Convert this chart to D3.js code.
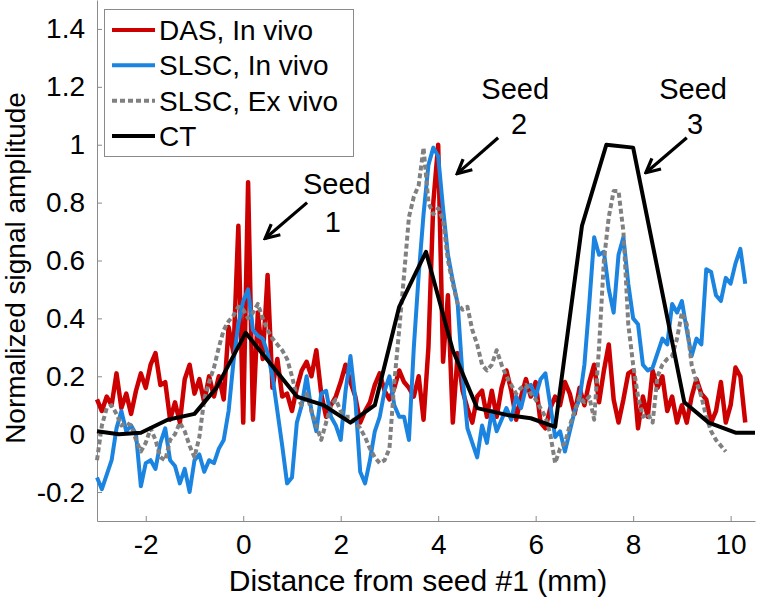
<!DOCTYPE html>
<html>
<head>
<meta charset="utf-8">
<script src="https://cdn.jsdelivr.net/npm/d3@7"></script>
<style>
body { margin: 0; background: #fff; }
svg text { font-family: "Liberation Sans", Arial, sans-serif; fill: #000; }
</style>
</head>
<body>
<script>
// profiles are sampled every 0.1 mm, starting at -3 mm
let xStart = -3
let xStep = 0.1

let dasVivo = [
  0.12, 0.08, 0.13, 0.10, 0.21, 0.09, 0.14, 0.07, 0.15, 0.21,
  0.16, 0.24, 0.28, 0.17, 0.18, 0.05, 0.11, 0.04, 0.19, 0.24,
  0.14, 0.19, 0.11, 0.20, 0.13, 0.20, 0.12, 0.37, 0.28, 0.72,
  0.04, 0.87, 0.05, 0.42, 0.26, 0.55, 0.16, 0.26, 0.13, 0.14,
  0.08, 0.16, 0.22, 0.25, 0.20, 0.29, 0.14, 0.06, 0.10, 0.13,
  0.18, 0.24, 0.18, 0.13, 0.04, 0.08, 0.11, 0.17, 0.21, 0.15,
  0.12, 0.16, 0.22, 0.18, 0.16, 0.13, 0.20, 0.05, 0.30, 0.80,
  1.00, 0.25, 0.48, 0.04, 0.28, 0.15, 0.09, 0.04, 0.13, 0.15,
  0.06, 0.15, 0.06, 0.16, 0.22, 0.15, 0.05, 0.13, 0.19, 0.13,
  0.18, 0.04, 0.02, 0.09, 0.13, 0.10, 0.18, 0.14, 0.07, 0.16,
  0.10, 0.18, 0.24, 0.11, 0.22, 0.31, 0.12, 0.04, 0.12, 0.21,
  0.22, 0.02, 0.13, 0.06, 0.22, 0.16, 0.20, 0.08, 0.13, 0.04,
  0.10, 0.04, 0.13, 0.19, 0.14, 0.12, 0.04, 0.08, 0.18, 0.04,
  0.10, 0.23, 0.20, 0.04
]

let slscVivo = [
  -0.15, -0.19, -0.14, -0.09, 0.02, 0.08, 0.01, 0.03, 0.00, -0.18,
  -0.10, -0.09, -0.12, -0.03, 0.02, -0.09, -0.11, -0.17, -0.12, -0.20,
  -0.09, -0.07, -0.13, -0.09, -0.10, -0.05, -0.02, 0.08, 0.25, 0.38,
  0.46, 0.50, 0.36, 0.34, 0.33, 0.28, 0.20, 0.08, -0.04, -0.17,
  -0.15, 0.04, 0.10, 0.20, 0.08, 0.01, 0.14, 0.15, 0.06, 0.03,
  -0.02, 0.15, 0.27, 0.12, -0.13, -0.17, -0.09, 0.01, 0.06, 0.15,
  0.20, 0.10, 0.06, 0.06, -0.02, 0.30, 0.55, 0.76, 0.93, 0.99,
  0.96, 0.78, 0.62, 0.53, 0.45, 0.20, 0.02, -0.03, -0.08, 0.03,
  -0.03, 0.08, 0.01, 0.05, 0.09, 0.05, 0.13, 0.09, 0.16, 0.17,
  0.13, 0.19, 0.21, 0.10, -0.01, 0.01, -0.06, 0.01, 0.08, 0.12,
  0.24, 0.45, 0.68, 0.62, 0.63, 0.50, 0.42, 0.62, 0.68, 0.52,
  0.40, 0.38, 0.24, 0.22, 0.23, 0.28, 0.33, 0.31, 0.45, 0.42,
  0.46, 0.36, 0.27, 0.33, 0.31, 0.57, 0.56, 0.48, 0.46, 0.54,
  0.52, 0.59, 0.64, 0.52
]

let slscExVivo = [
  -0.09, 0.03, 0.09, 0.10, 0.07, 0.03, 0.04, 0.03, -0.02, -0.06,
  -0.03, 0.02, -0.02, -0.08, -0.09, -0.02, 0.00, 0.04, 0.01, -0.04,
  -0.08, -0.01, 0.12, 0.18, 0.23, 0.30, 0.36, 0.39, 0.41, 0.44,
  0.43, 0.40, 0.42, 0.45, 0.40, 0.36, 0.33, 0.31, 0.29, 0.26,
  0.20, 0.13, 0.10, 0.14, 0.08, 0.03, -0.02, 0.04, 0.10, 0.12,
  0.08, 0.06, 0.06, 0.04, 0.02, -0.01, -0.05, -0.08, -0.10, -0.09,
  -0.05, 0.18, 0.36, 0.55, 0.75, 0.82, 0.86, 0.99, 0.80, 0.76,
  0.78, 0.74, 0.60, 0.52, 0.45, 0.43, 0.44, 0.36, 0.31, 0.24,
  0.22, 0.24, 0.29, 0.24, 0.20, 0.17, 0.14, 0.16, 0.17, 0.14,
  0.12, 0.09, 0.06, 0.00, -0.10, -0.05, -0.03, 0.03, 0.08, 0.13,
  0.11, 0.13, 0.05, 0.30, 0.60, 0.75, 0.84, 0.84, 0.70, 0.38,
  0.24, 0.13, 0.06, 0.07, 0.04, 0.20, 0.24, 0.26, 0.27, 0.33,
  0.42, 0.38, 0.24, 0.18, 0.13, 0.06, 0.01, -0.02, -0.04, -0.06
]

// CT profile is a coarse polyline
let ctX = [-3, -2.55, -2.1, -1.55, -1.0, -0.55, 0.05, 1.1, 1.65, 2.2, 2.7, 3.2, 3.75,
  4.3, 4.8, 5.45, 5.9, 6.4, 6.95, 7.45, 8.0, 9.05, 9.55, 10.1, 10.5]
let ctY = [0.01, 0, 0.005, 0.05, 0.07, 0.16, 0.35, 0.13, 0.10, 0.04, 0.10, 0.44, 0.63,
  0.29, 0.09, 0.065, 0.055, 0.025, 0.72, 1.0, 0.99, 0.11, 0.04, 0.005, 0.005]

let xTicks = [-2, 0, 2, 4, 6, 8, 10]
let yTicks = [-0.2, 0, 0.2, 0.4, 0.6, 0.8, 1, 1.2, 1.4]

let legendNames = ["DAS, In vivo", "SLSC, In vivo", "SLSC, Ex vivo", "CT"]

// seed annotations, in data units
let seedNames = ["1", "2", "3"]
let seedWordX = [1.92, 5.58, 9.23]
let seedWordY = [0.83, 1.158, 1.158]
let seedNumX = [1.84, 5.66, 9.27]
let seedNumY = [0.697, 1.038, 1.038]
let arrowX0 = [1.31, 5.23, 9.10]
let arrowY0 = [0.80, 1.024, 1.024]
let arrowX1 = [0.45, 4.39, 8.26]
let arrowY1 = [0.676, 0.90, 0.903]

let w = 758
let h = 600
let colors = ["#cc0000", "#1b84e0", "#808080", "#000000"]
let axisColor = "#8a8a8a"

let svg = d3.select("body").append("svg")
    .attr("width", w)
    .attr("height", h)

let x = d3.scaleLinear().domain([-3, 10.5]).range([97, 755])
let y = d3.scaleLinear().domain([-0.3, 1.5]).range([521, 0])

let line = d3.line().x(d => x(d[0])).y(d => y(d[1]))
let sampled = arr => arr.map((v, i) => [xStart + i * xStep, v])

//axes
let yAxis = svg.append("g")
    .attr("transform", "translate(" + x(-3) + ",0)")
    .call(d3.axisLeft(y).tickValues(yTicks).tickFormat(d => String(d))
        .tickSize(-5).tickSizeOuter(0).tickPadding(12))
let xAxis = svg.append("g")
    .attr("transform", "translate(0," + y(-0.3) + ")")
    .call(d3.axisBottom(x).tickValues(xTicks).tickFormat(d => String(d))
        .tickSize(-5).tickSizeOuter(0).tickPadding(13))

svg.selectAll(".domain, .tick line").attr("stroke", axisColor)
svg.selectAll(".tick text").attr("font-size", 28).attr("font-family", "Liberation Sans, Arial, sans-serif")

// profiles
let series = [sampled(dasVivo), sampled(slscVivo), sampled(slscExVivo), ctX.map((v, i) => [v, ctY[i]])]
svg.selectAll("path.profile")
    .data(series)
    .enter()
    .append("path")
    .attr("class", "profile")
    .attr("d", line)
    .attr("fill", "none")
    .attr("stroke", (d, i) => colors[i])
    .attr("stroke-width", (d, i) => i == 0 ? 4.5 : 4)
    .attr("stroke-dasharray", (d, i) => i == 2 ? "5,3" : null)
    .attr("stroke-linejoin", "round")

// axis titles
svg.append("text")
    .attr("x", 418)
    .attr("y", 591)
    .attr("text-anchor", "middle")
    .attr("font-size", 30)
    .text("Distance from seed #1 (mm)")
svg.append("text")
    .attr("transform", "translate(25,268) rotate(-90)")
    .attr("text-anchor", "middle")
    .attr("font-size", 28)
    .text("Normalized signal amplitude")

// seed labels and arrows
let defs = svg.append("defs")
defs.append("marker")
    .attr("id", "arrow")
    .attr("viewBox", "0 0 18 18")
    .attr("refX", 16)
    .attr("refY", 9)
    .attr("markerWidth", 18)
    .attr("markerHeight", 18)
    .attr("markerUnits", "userSpaceOnUse")
    .attr("orient", "auto")
    .append("path")
    .attr("d", "M2,2 L16,9 L2,16")
    .attr("fill", "none")
    .attr("stroke", "#000")
    .attr("stroke-width", 3.2)

seedNames.forEach((s, i) => {
    svg.append("line")
        .attr("x1", x(arrowX0[i]))
        .attr("y1", y(arrowY0[i]))
        .attr("x2", x(arrowX1[i]))
        .attr("y2", y(arrowY1[i]))
        .attr("stroke", "#000")
        .attr("stroke-width", 3.2)
        .attr("marker-end", "url(#arrow)")
    svg.append("text")
        .attr("x", x(seedWordX[i]))
        .attr("y", y(seedWordY[i]))
        .attr("text-anchor", "middle")
        .attr("font-size", 29)
        .text("Seed")
    svg.append("text")
        .attr("x", x(seedNumX[i]))
        .attr("y", y(seedNumY[i]))
        .attr("text-anchor", "middle")
        .attr("font-size", 29)
        .text(s)
})

//legend
let legend = svg.append("g")
legend.append("rect")
    .attr("x", 104.5)
    .attr("y", 9.5)
    .attr("width", 249)
    .attr("height", 147)
    .attr("fill", "#fff")
    .attr("stroke", axisColor)
    .attr("stroke-width", 1)
let rowY = d3.scalePoint().domain(legendNames).range([30, 136])
legendNames.forEach((name, i) => {
    legend.append("line")
        .attr("x1", 112)
        .attr("x2", 155)
        .attr("y1", rowY(name))
        .attr("y2", rowY(name))
        .attr("stroke", colors[i])
        .attr("stroke-width", 4)
        .attr("stroke-dasharray", i == 2 ? "5,3" : null)
    legend.append("text")
        .attr("x", 159)
        .attr("y", rowY(name) + 10)
        .attr("font-size", 28)
        .text(name)
})
</script>
</body>
</html>
